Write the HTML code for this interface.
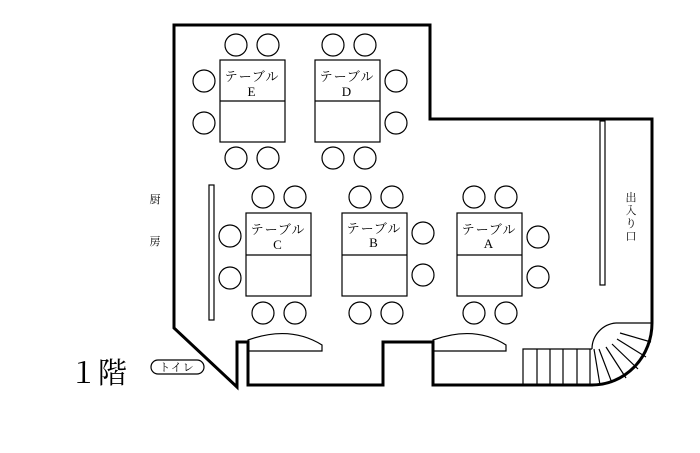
<!DOCTYPE html><html><head><meta charset="utf-8"><style>
body{margin:0;background:#fff;width:700px;height:453px;overflow:hidden}
svg{display:block}
text{font-family:"Liberation Serif","Noto Serif CJK JP",serif;fill:#000}
</style></head><body>
<svg width="700" height="453" viewBox="0 0 700 453">
<g fill="none" stroke="#000" stroke-width="3" stroke-linejoin="miter">
<path d="M237,342 L237,387 L174,328 L174,25 L430,25 L430,119 L652,119 L652,323 A60,62 0 0 1 592,385 L433,385 L433,342 L383,342 L383,385 L248,385 L248,342 Z"/>
</g>
<g fill="none" stroke="#000" stroke-width="1.2">
<rect x="209" y="185" width="5" height="135"/>
<rect x="600" y="121" width="5" height="164"/>
<path d="M248,351 L248,340 Q290,325 322,345 L322,351 Z"/>
<path d="M433,351 L433,340 Q475,325 506,345 L506,351 Z"/>
<path d="M523,385 L523,349 L592,349"/>
<path d="M537,349V385M550,349V385M563,349V385M577,349V385M590,349V385"/>
<path d="M616,323 L652,323"/>
<path d="M616,323 A26,26 0 0 0 592,349"/>
<path d="M620,333 L651,342 M617,339 L646,357 M612,344 L638,369 M606,347 L626,378 M599,349 L612,383 M594,349 L600,385"/>
<rect x="220" y="60" width="65" height="82"/><line x1="220" y1="101" x2="285" y2="101"/>
<rect x="315" y="60" width="65" height="82"/><line x1="315" y1="101" x2="380" y2="101"/>
<rect x="246" y="213" width="65" height="83"/><line x1="246" y1="255" x2="311" y2="255"/>
<rect x="342" y="213" width="65" height="83"/><line x1="342" y1="255" x2="407" y2="255"/>
<rect x="457" y="213" width="65" height="83"/><line x1="457" y1="255" x2="522" y2="255"/>
<circle cx="236" cy="45" r="11"/><circle cx="268" cy="45" r="11"/>
<circle cx="236" cy="158" r="11"/><circle cx="268" cy="158" r="11"/>
<circle cx="204" cy="81" r="11"/><circle cx="204" cy="123" r="11"/>
<circle cx="333" cy="45" r="11"/><circle cx="365" cy="45" r="11"/>
<circle cx="333" cy="158" r="11"/><circle cx="365" cy="158" r="11"/>
<circle cx="396" cy="81" r="11"/><circle cx="396" cy="123" r="11"/>
<circle cx="263" cy="197" r="11"/><circle cx="295" cy="197" r="11"/>
<circle cx="263" cy="313" r="11"/><circle cx="295" cy="313" r="11"/>
<circle cx="230" cy="236" r="11"/><circle cx="230" cy="278" r="11"/>
<circle cx="360" cy="197" r="11"/><circle cx="392" cy="197" r="11"/>
<circle cx="360" cy="313" r="11"/><circle cx="392" cy="313" r="11"/>
<circle cx="423" cy="233" r="11"/><circle cx="423" cy="275" r="11"/>
<circle cx="474" cy="197" r="11"/><circle cx="506" cy="197" r="11"/>
<circle cx="474" cy="313" r="11"/><circle cx="506" cy="313" r="11"/>
<circle cx="538" cy="237" r="11"/><circle cx="538" cy="277" r="11"/>
<rect x="151" y="360" width="53" height="14" rx="7"/>
</g>
<g font-size="13" text-anchor="middle" letter-spacing="1">
<text x="252" y="81">テーブル</text><text x="252" y="96">E</text>
<text x="347" y="81">テーブル</text><text x="347" y="96">D</text>
<text x="278" y="234">テーブル</text><text x="278" y="249">C</text>
<text x="374" y="233">テーブル</text><text x="374" y="247">B</text>
<text x="489" y="234">テーブル</text><text x="489" y="248">A</text>
</g>
<g text-anchor="middle">
<text x="155" y="203" font-size="11">厨</text>
<text x="155" y="245" font-size="11">房</text>
<text x="631" y="201" font-size="11">出</text>
<text x="631" y="214" font-size="11">入</text>
<text x="631" y="227" font-size="11">り</text>
<text x="631" y="240" font-size="11">口</text>
<text x="177" y="371" font-size="11" letter-spacing="1">トイレ</text>
<text x="98" y="383" font-size="29">１階</text>
</g>
</svg>
</body></html>
